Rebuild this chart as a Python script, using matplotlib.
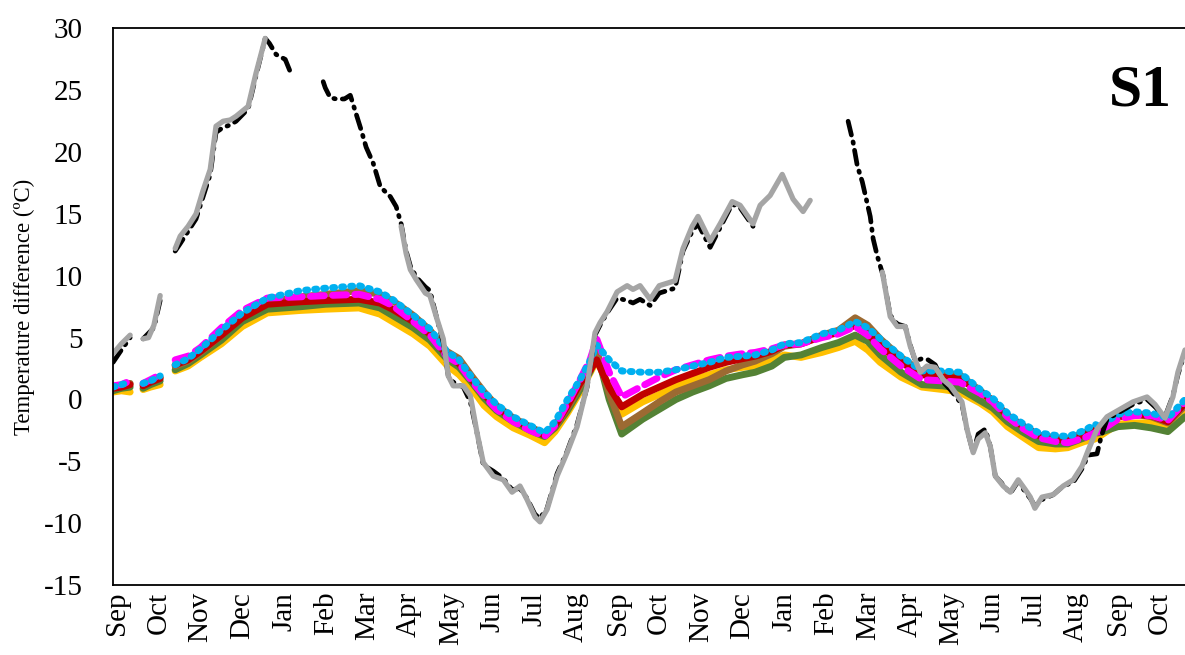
import numpy as np
import matplotlib.pyplot as plt

nan = np.nan

months = ['Sep', 'Oct', 'Nov', 'Dec', 'Jan', 'Feb', 'Mar', 'Apr', 'May', 'Jun', 'Jul', 'Aug',
          'Sep', 'Oct', 'Nov', 'Dec', 'Jan', 'Feb', 'Mar', 'Apr', 'May', 'Jun', 'Jul', 'Aug',
          'Sep', 'Oct']

# x in months since first Sep
xc = [-0.1, 0.1, 0.31, 0.45, 0.62, 0.8, 1.03, 1.2, 1.39, 1.7, 2.0, 2.5, 3.0, 3.6, 4.4, 5.0,
      5.8, 6.3, 6.6, 7.1, 7.5, 7.9, 8.2, 8.5, 8.8, 9.1, 9.5, 9.9, 10.25, 10.5, 10.8, 11.1,
      11.35, 11.5, 11.8, 12.1, 12.6, 13.0, 13.4, 13.8, 14.2, 14.6, 15.0, 15.3, 15.7, 16.0,
      16.4, 16.9, 17.3, 17.7, 18.0, 18.3, 18.8, 19.3, 19.8, 20.2, 20.7, 21.0, 21.35, 21.7,
      22.1, 22.5, 22.8, 23.2, 23.45, 23.55, 24.0, 24.4, 24.8, 25.2, 25.61]

cyan = [1.0, 1.2, 1.4, nan, 1.3, 1.5, 1.9, nan, 2.8, 3.3, 4.1, 5.6, 7.0, 8.2, 8.8, 9.0,
        9.2, 8.7, 8.1, 6.8, 5.7, 3.9, 3.2, 1.8, 0.6, -0.4, -1.4, -2.1, -2.7, -1.8, 0.0, 1.6,
        3.2, 4.4, 3.2, 2.3, 2.2, 2.2, 2.4, 2.7, 3.0, 3.4, 3.5, 3.6, 4.0, 4.5,
        4.6, 5.3, 5.6, 6.3, 5.8, 4.9, 3.5, 2.3, 2.3, 2.2, 0.8, 0.1, -1.1, -1.9,
        -2.7, -2.9, -3.0, -2.5, -2.0, -2.2, -1.2, -1.0, -1.1, -1.5, 0.0]
magenta = [1.1, 1.2, 1.5, nan, 1.3, 1.6, 2.0, nan, 3.2, 3.5, 4.2, 5.8, 7.2, 8.2, 8.3, 8.4,
           8.5, 8.1, 7.6, 6.3, 5.2, 3.5, 2.9, 1.5, 0.3, -0.8, -1.8, -2.5, -3.0, -2.1, -0.3, 1.6,
           3.3, 4.9, 2.2, 0.2, 1.1, 1.8, 2.4, 2.8, 3.2, 3.5, 3.7, 3.8, 4.1, 4.4,
           4.5, 5.0, 5.3, 5.9, 5.2, 4.1, 2.7, 1.6, 1.5, 1.4, 0.5, -0.2, -1.4, -2.3,
           -3.1, -3.4, -3.5, -3.1, -2.7, -2.6, -1.6, -1.3, -1.3, -1.7, -0.2]
red = [0.9, 1.0, 1.2, nan, 1.1, 1.4, 1.7, nan, 2.8, 3.2, 3.9, 5.2, 6.6, 7.7, 7.9, 8.0,
       8.1, 7.8, 7.3, 6.3, 5.3, 3.6, 2.9, 1.6, 0.4, -0.6, -1.6, -2.3, -2.9, -2.1, -0.5, 1.3,
       2.4, 3.2, 1.0, -0.6, 0.4, 1.0, 1.6, 2.1, 2.6, 3.0, 3.3, 3.5, 3.9, 4.4,
       4.5, 5.1, 5.4, 6.0, 5.3, 4.3, 3.0, 2.0, 1.8, 1.7, 0.6, -0.1, -1.3, -2.1,
       -2.9, -3.2, -3.3, -2.8, -2.4, -2.4, -1.4, -1.2, -1.3, -1.8, -0.3]
brown = [0.9, 1.1, 1.3, nan, 1.2, 1.5, 1.8, nan, 2.7, 3.1, 3.8, 5.2, 6.7, 7.9, 8.3, 8.5,
         8.8, 8.5, 8.0, 6.8, 5.6, 3.9, 3.3, 1.9, 0.6, -0.5, -1.5, -2.2, -2.8, -2.2, -0.7, 1.1,
         2.5, 3.9, 0.5, -2.2, -1.1, -0.2, 0.6, 1.1, 1.6, 2.3, 2.8, 3.1, 3.7, 4.3,
         4.5, 5.2, 5.6, 6.6, 6.0, 4.9, 3.4, 2.2, 2.1, 2.0, 0.7, -0.1, -1.3, -2.1,
         -2.9, -3.1, -3.2, -2.7, -2.3, -2.3, -1.4, -1.2, -1.4, -1.9, -0.5]
green = [0.7, 0.9, 1.0, nan, 0.9, 1.2, 1.5, nan, 2.4, 2.9, 3.6, 4.8, 6.3, 7.3, 7.5, 7.7,
         7.8, 7.4, 6.8, 5.8, 4.8, 3.3, 2.6, 1.4, 0.1, -0.9, -1.8, -2.5, -3.0, -2.3, -0.9, 0.8,
         2.3, 3.9, 0.0, -2.8, -1.6, -0.8, 0.0, 0.6, 1.1, 1.7, 2.0, 2.2, 2.7, 3.4,
         3.6, 4.2, 4.6, 5.2, 4.7, 3.6, 2.2, 1.2, 1.1, 0.9, -0.1, -0.7, -1.8, -2.6,
         -3.4, -3.6, -3.6, -3.1, -2.7, -2.7, -2.2, -2.1, -2.3, -2.6, -1.4]
yellow = [0.6, 0.7, 0.6, nan, 0.8, 1.0, 1.2, nan, 2.3, 2.7, 3.4, 4.5, 5.9, 7.0, 7.2, 7.3,
          7.4, 6.9, 6.3, 5.3, 4.3, 2.8, 2.0, 0.9, -0.5, -1.4, -2.3, -2.9, -3.5, -2.6, -1.1, 0.6,
          2.2, 3.2, 1.0, -1.2, -0.2, 0.4, 1.1, 1.6, 2.0, 2.4, 2.6, 2.7, 3.2, 3.6,
          3.4, 3.8, 4.2, 4.7, 4.0, 3.0, 1.8, 1.0, 0.8, 0.6, -0.3, -1.0, -2.2, -3.0,
          -3.9, -4.0, -3.9, -3.4, -3.2, -3.0, -2.0, -1.9, -1.9, -2.2, -0.8]

gray_x = [-0.1, 0.1, 0.31, 0.45, 0.62, 0.75, 0.88, 1.03, 1.2, 1.39, 1.51, 1.70, 1.89, 2.05,
          2.23, 2.37, 2.54, 2.71, 2.85, 3.14, 3.33, 3.55, 3.6, 6.8, 6.81, 6.93, 7.03, 7.17,
          7.39, 7.5, 7.67, 7.82, 7.94, 8.06, 8.3, 8.47, 8.63, 8.78, 9.02, 9.26, 9.47, 9.66,
          9.83, 10.02, 10.14, 10.31, 10.55, 10.79, 11.03, 11.27, 11.46, 11.58, 11.75, 11.99,
          12.23, 12.37, 12.54, 12.78, 13.0, 13.38, 13.57, 13.79, 13.93, 14.22, 14.46, 14.75,
          14.94, 15.25, 15.42, 15.66, 15.95, 16.21, 16.45, 16.62, 16.7, 18.3, 18.35, 18.54,
          18.71, 18.9, 19.02, 19.14, 19.26, 19.42, 19.62, 19.81, 19.98, 20.26, 20.38, 20.53,
          20.65, 20.82, 20.94, 21.06, 21.25, 21.42, 21.61, 21.78, 21.9, 22.01, 22.18, 22.45,
          22.69, 22.93, 23.14, 23.29, 23.5, 23.74, 24.05, 24.36, 24.7, 24.89, 25.13, 25.32,
          25.44, 25.61]
gray_y = [3.7, 4.5, 5.2, nan, 4.9, 5.0, 6.0, 8.4, nan, 12.2, 13.2, 14.0, 15.0, 16.8,
          18.6, 22.1, 22.5, 22.6, 22.9, 23.7, 26.4, 29.2, nan, nan, 14.0, 11.8, 10.5, 9.7,
          8.6, 8.4, 6.5, 4.9, 1.9, 1.1, 1.1, 0.3, -2.7, -5.1, -6.2, -6.5, -7.5, -7.0,
          -8.1, -9.5, -9.9, -8.9, -6.2, -4.3, -2.2, 1.1, 5.4, 6.2, 7.1, 8.7,
          9.2, 8.9, 9.2, 8.1, 9.2, 9.6, 12.2, 14.0, 14.8, 12.8, 14.2, 16.0,
          15.7, 14.2, 15.7, 16.5, 18.2, 16.2, 15.2, 16.1, nan, nan, 10.3, 6.7,
          5.9, 5.9, 4.3, 3.2, 2.2, 2.7, 2.6, 1.6, 1.1, -0.2, -2.4, -4.3,
          -3.2, -2.7, -3.8, -6.2, -7.0, -7.5, -6.5, -7.3, -7.9, -8.8, -7.9, -7.7,
          -7.0, -6.5, -5.4, -4.1, -2.4, -1.4, -0.8, -0.2, 0.2, -0.4, -1.5, 0.2,
          2.2, 4.0]

black_x = [-0.1, 0.1, 0.31, 0.45, 0.62, 0.88, 1.03, 1.2, 1.39, 1.51, 1.7, 1.89, 2.23, 2.37,
           2.54, 2.71, 2.85, 3.14, 3.33, 3.55, 3.65, 3.81, 4.03, 4.15, 4.3, 4.94, 4.99, 5.11,
           5.25, 5.45, 5.59, 5.73, 5.85, 5.97, 6.14, 6.31, 6.55, 6.69, 6.81, 6.93, 7.03, 7.17,
           7.39, 7.5, 7.67, 7.82, 7.94, 8.06, 8.3, 8.47, 8.63, 8.78, 9.02, 9.26, 9.47, 9.66,
           9.83, 10.02, 10.14, 10.31, 10.55, 10.79, 11.03, 11.27, 11.46, 11.58, 11.75, 11.99,
           12.23, 12.37, 12.54, 12.78, 13.0, 13.38, 13.57, 13.79, 13.93, 14.22, 14.46, 14.75,
           14.94, 15.25, 15.3, 17.5, 17.53, 17.65, 17.75, 17.87, 18.06, 18.13, 18.23, 18.37,
           18.54, 18.71, 18.9, 19.02, 19.14, 19.3, 19.45, 19.62, 19.81, 19.98, 20.26, 20.38,
           20.53, 20.65, 20.82, 20.94, 21.06, 21.25, 21.42, 21.61, 21.78, 21.9, 22.01, 22.18,
           22.45, 22.69, 22.93, 23.14, 23.29, 23.5, 23.6, 23.74, 24.05, 24.36, 24.7, 24.89,
           25.13, 25.32, 25.44, 25.61]
black_y = [3.0, 4.0, 5.0, nan, 4.9, 5.8, 8.0, nan, 12.0, 12.6, 13.6, 14.6, 18.2, 21.6,
           22.0, 22.2, 22.5, 23.5, 26.2, 29.2, 28.8, 27.9, 27.5, 26.5, nan, 25.7, 25.2, 24.4,
           24.3, 24.3, 24.6, 23.1, 21.8, 20.4, 19.1, 17.2, 16.4, 15.6, 14.2, 12.0, 10.8, 9.9,
           9.1, 8.8, 6.5, 4.6, 1.9, 1.4, 1.0, -0.2, -2.7, -5.3, -5.8, -6.4, -7.3, -7.2,
           -8.0, -9.3, -9.6, -8.8, -6.0, -4.2, -2.0, 1.0, 5.2, 6.0, 7.0, 8.2,
           8.0, 7.8, 8.1, 7.6, 8.6, 9.0, 12.0, 13.6, 14.2, 12.3, 13.9, 15.8,
           15.5, 14.0, nan, nan, 22.5, 20.8, 18.9, 17.6, 14.8, 13.0, 11.6, 10.0,
           6.8, 6.1, 5.9, 4.4, 3.1, 3.3, 3.2, 2.8, 1.4, 0.8, -0.4, -2.4,
           -4.3, -2.8, -2.4, -3.8, -6.2, -6.9, -7.6, -6.6, -7.5, -8.0, -8.6, -8.1,
           -7.7, -7.0, -6.7, -5.6, -4.5, -4.4, -3.0, -1.6, -1.0, -0.4, 0.0, -0.6,
           -1.4, 0.3, 2.0, 3.8]

plt.rcParams['font.family'] = ['Liberation Serif', 'DejaVu Serif']
plt.rcParams['axes.unicode_minus'] = False

fig = plt.figure(figsize=(11.85, 6.55), dpi=100)
ax = fig.add_axes([0.0954, 0.107, 0.9046, 0.8495])

lw = 5
ax.plot(xc, yellow, color='#FFC000', lw=lw, solid_capstyle='round')
ax.plot(xc, green, color='#548235', lw=lw, solid_capstyle='round')
ax.plot(xc, brown, color='#9C6A32', lw=lw, solid_capstyle='round')
ax.plot(xc, red, color='#C00000', lw=lw, solid_capstyle='round')
ax.plot(xc, magenta, color='#FF00FF', lw=lw, linestyle=(0, (2.0, 1.2)),
        dash_capstyle='round')
ax.plot(xc, cyan, color='#00B0F0', lw=lw, linestyle=(0, (0.3, 1.0)),
        dash_capstyle='round')
ax.plot(black_x, black_y, color='black', lw=3.4, linestyle=(0, (3, 1.5, 0.3, 1.5)),
        dash_capstyle='round')
ax.plot(gray_x, gray_y, color='#A5A5A5', lw=3.8, solid_capstyle='round')

ax.set_xlim(-0.1, 25.61)
ax.set_ylim(-15, 30)
ax.set_yticks(range(-15, 31, 5))
ax.set_xticks(range(len(months)))
ax.set_xticklabels(months, rotation=90)
ax.tick_params(length=0, labelsize=21)
ax.tick_params(axis='y', pad=22)
ax.tick_params(axis='x', pad=5)
for s in ax.spines.values():
    s.set_linewidth(1.3)
ax.spines['right'].set_visible(False)

ax.set_ylabel('Temperature difference (ºC)', fontsize=16.5, labelpad=6)
ax.text(0.988, 0.935, 'S1', transform=ax.transAxes, ha='right', va='top',
        fontsize=43, fontweight='bold')

fig.savefig('out.png', dpi=100)
